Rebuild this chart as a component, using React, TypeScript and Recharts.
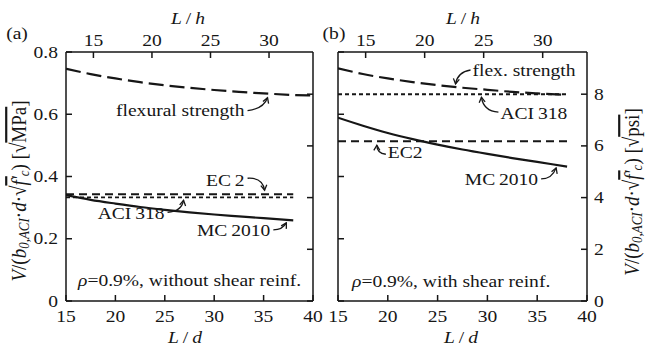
import React from 'react';
import { LineChart, Line, XAxis, YAxis, ReferenceDot } from 'recharts';

const FONT = '"Liberation Serif", "Times New Roman", Times, serif';
const INK = '#161616';
const FS = 17;
const SX = 1.15;

// Panel (a): shear capacity without shear reinforcement, in sqrt(MPa)
const ldA = [15, 17.5, 20, 22.5, 25, 27.5, 30, 32.5, 35, 38, 40];
const flexA = [0.746, 0.729, 0.715, 0.703, 0.693, 0.685, 0.678, 0.672, 0.667, 0.662, 0.66];
const ec2A = [0.343, 0.343, 0.343, 0.343, 0.343, 0.343, 0.343, 0.343, 0.343, 0.343, null];
const aciA = [0.333, 0.333, 0.333, 0.333, 0.333, 0.333, 0.333, 0.333, 0.333, 0.333, null];
const mcA = [0.34, 0.325, 0.313, 0.302, 0.293, 0.285, 0.278, 0.272, 0.266, 0.259, null];

// Panel (b): shear capacity with shear reinforcement, in sqrt(psi)
const ldB = [15, 17.5, 20, 22.5, 25, 27.5, 30, 32.5, 35, 38];
const flexB = [9.0, 8.78, 8.61, 8.47, 8.35, 8.25, 8.17, 8.09, 8.03, 7.97];
const aciB = [8, 8, 8, 8, 8, 8, 8, 8, 8, 8];
const ec2B = [6.18, 6.18, 6.18, 6.18, 6.18, 6.18, 6.18, 6.18, 6.18, 6.18];
const mcB = [7.09, 6.78, 6.5, 6.26, 6.05, 5.86, 5.69, 5.53, 5.38, 5.2];

// Axis ticks
const ldTicks = [15, 20, 25, 30, 35, 40];
const lhTicks = [15, 20, 25, 30];
const mpaTicks = [0, 0.2, 0.4, 0.6, 0.8];
const psiTicks = [0, 2, 4, 6, 8];

const LD_PER_LH = 1.185;
const PSI_PER_MPA = 12.04;
const MPA_MAX = 0.8;
const PSI_MAX = MPA_MAX * PSI_PER_MPA;
const LD_DOMAIN: [number, number] = [15, 40];

const dataA = ldA.map((ld, i) => ({ ld, flex: flexA[i], ec2: ec2A[i], aci: aciA[i], mc: mcA[i] }));
const dataB = ldB.map((ld, i) => ({ ld, flex: flexB[i], ec2: ec2B[i], aci: aciB[i], mc: mcB[i] }));
const lhTicksOnLd = lhTicks.map((v) => v * LD_PER_LH);

function interp(xs: number[], ys: (number | null)[], x: number): number {
  for (let i = 0; i < xs.length - 1; i++) {
    const y0 = ys[i];
    const y1 = ys[i + 1];
    if (x >= xs[i] && x <= xs[i + 1] && y0 != null && y1 != null) {
      const t = (x - xs[i]) / (xs[i + 1] - xs[i]);
      return y0 + t * (y1 - y0);
    }
  }
  return ys[0] as number;
}

type Anchor = 'start' | 'middle' | 'end';

function SText({ x, y, anchor = 'middle', size = FS, children }: { x: number; y: number; anchor?: Anchor; size?: number; children: React.ReactNode }) {
  return (
    <text
      transform={`translate(${x},${y}) scale(${SX},1)`}
      textAnchor={anchor}
      dominantBaseline="central"
      fontFamily={FONT}
      fontSize={size}
      fill={INK}
    >
      {children}
    </text>
  );
}

type Side = 'left' | 'right' | 'top' | 'bottom';
const TICK = 6;

function axisTick(side: Side, labelled: boolean, fmt: (v: number) => string = (v) => String(v)) {
  return (props: any) => {
    const { x, y, payload } = props;
    const label = fmt(payload.value);
    let seg: [number, number, number, number];
    let text: React.ReactNode = null;
    if (side === 'left') {
      seg = [x, y, x + TICK, y];
      if (labelled) text = <SText x={x - 8} y={y} anchor="end">{label}</SText>;
    } else if (side === 'right') {
      seg = [x, y, x - TICK, y];
      if (labelled) text = <SText x={x + 7} y={y} anchor="start">{label}</SText>;
    } else if (side === 'top') {
      seg = [x, y, x, y + TICK];
      if (labelled) text = <SText x={x} y={y - 12}>{label}</SText>;
    } else {
      seg = [x, y, x, y - TICK];
      if (labelled) text = <SText x={x} y={y + 15}>{label}</SText>;
    }
    return (
      <g>
        <line x1={seg[0]} y1={seg[1]} x2={seg[2]} y2={seg[3]} stroke={INK} strokeWidth={1.5} />
        {text}
      </g>
    );
  };
}

type Callout = {
  text: React.ReactNode;
  tx: number;
  ty: number;
  anchor: Anchor;
  from: [number, number];
  ctrl: [number, number];
  tip: [number, number];
};

function calloutShape(c: Callout) {
  return (p: any) => {
    const { cx, cy } = p;
    const sx = cx + c.from[0];
    const sy = cy + c.from[1];
    const qx = cx + c.ctrl[0];
    const qy = cy + c.ctrl[1];
    const ex = cx + c.tip[0];
    const ey = cy + c.tip[1];
    const dx = ex - qx;
    const dy = ey - qy;
    const len = Math.hypot(dx, dy) || 1;
    const ux = -dx / len;
    const uy = -dy / len;
    const a = Math.PI / 6;
    const h = 6;
    const w1x = ex + h * (ux * Math.cos(a) - uy * Math.sin(a));
    const w1y = ey + h * (ux * Math.sin(a) + uy * Math.cos(a));
    const w2x = ex + h * (ux * Math.cos(-a) - uy * Math.sin(-a));
    const w2y = ey + h * (ux * Math.sin(-a) + uy * Math.cos(-a));
    return (
      <g>
        <path d={`M${sx},${sy} Q${qx},${qy} ${ex},${ey}`} fill="none" stroke={INK} strokeWidth={1.3} />
        <path d={`M${w1x},${w1y} L${ex},${ey} L${w2x},${w2y}`} fill="none" stroke={INK} strokeWidth={1.3} />
        <SText x={cx + c.tx} y={cy + c.ty} anchor={c.anchor}>{c.text}</SText>
      </g>
    );
  };
}

function noteShape(text: React.ReactNode, ox: number, oy: number) {
  return (p: any) => (
    <SText x={p.cx + ox} y={p.cy + oy} anchor="start">{text}</SText>
  );
}

const axisLine = { stroke: INK, strokeWidth: 1.5 };

const lineStyles = {
  flex: { strokeDasharray: '15 6', strokeWidth: 2.2 },
  ec2: { strokeDasharray: '8 5', strokeWidth: 2.1 },
  aci: { strokeDasharray: '4 3', strokeWidth: 1.9 },
  mc: { strokeDasharray: undefined, strokeWidth: 2.2 },
};

const it = (s: string) => <tspan fontStyle="italic">{s}</tspan>;

const YL_FS = 19;
const YL_SUB = 13;

function YLabel({ x, y, unit }: { x: number; y: number; unit: string }) {
  return (
    <text
      transform={`translate(${x},${y}) scale(${SX},1) rotate(-90)`}
      textAnchor="middle"
      dominantBaseline="central"
      fontFamily={FONT}
      fontSize={YL_FS}
      fill={INK}
    >
      <tspan fontStyle="italic">V</tspan>
      <tspan>/(</tspan>
      <tspan fontStyle="italic">b</tspan>
      <tspan fontStyle="italic" fontSize={YL_SUB} dy={4}>0,ACI</tspan>
      <tspan dy={-4}>{'\u00B7'}</tspan>
      <tspan fontStyle="italic">d</tspan>
      <tspan>{'\u00B7\u221A'}</tspan>
      <tspan fontStyle="italic" textDecoration="overline">f'</tspan>
      <tspan fontStyle="italic" fontSize={YL_SUB} dy={4}>c</tspan>
      <tspan dy={-4}>{') [\u221A'}</tspan>
      <tspan textDecoration="overline">{unit}</tspan>
      <tspan>]</tspan>
    </text>
  );
}

function Overlay() {
  return (
    <svg width={645} height={349} style={{ position: 'absolute', left: 0, top: 0, pointerEvents: 'none' }}>
      <SText x={17} y={33}>(a)</SText>
      <SText x={334} y={33}>(b)</SText>
      <SText x={188} y={18}>{it('L')}{'\u2009/\u2009'}{it('h')}</SText>
      <SText x={463} y={18}>{it('L')}{'\u2009/\u2009'}{it('h')}</SText>
      <SText x={185} y={337}>{it('L')}{'\u2009/\u2009'}{it('d')}</SText>
      <SText x={461} y={337}>{it('L')}{'\u2009/\u2009'}{it('d')}</SText>
      <YLabel x={19} y={191} unit="MPa" />
      <YLabel x={632} y={192} unit="psi" />
    </svg>
  );
}

export default function App() {
  const rho = <>{it('\u03C1')}=0.9%, </>;

  const flexAnchorA = 35.5;
  const ec2AnchorA = 35.1;
  const aciAnchorA = 27.0;
  const mcAnchorA = 37.3;

  const flexAnchorB = 26.8;
  const aciAnchorB = 29.4;
  const ec2AnchorB = 19.0;
  const mcAnchorB = 36.9;

  return (
    <div style={{ position: 'absolute', left: 0, top: 0, width: 645, height: 349, background: '#fff', overflow: 'hidden' }}>
      <div style={{ position: 'absolute', left: 0, top: 0 }}>
        <LineChart width={330} height={349} data={dataA} margin={{ top: 0, right: 0, bottom: 0, left: 0 }}>
          <XAxis xAxisId="ld" dataKey="ld" type="number" domain={LD_DOMAIN} ticks={ldTicks} orientation="bottom" height={48}
            interval={0} tickSize={0} tickMargin={0} tickLine={false} axisLine={axisLine} tick={axisTick('bottom', true)} allowDataOverflow />
          <XAxis xAxisId="lh" dataKey="ld" type="number" domain={LD_DOMAIN} ticks={lhTicksOnLd} orientation="top" height={52}
            interval={0} tickSize={0} tickMargin={0} tickLine={false} axisLine={axisLine}
            tick={axisTick('top', true, (v) => String(Math.round(v / LD_PER_LH)))} allowDataOverflow />
          <YAxis yAxisId="mpa" type="number" domain={[0, MPA_MAX]} ticks={mpaTicks} orientation="left" width={66}
            interval={0} tickSize={0} tickMargin={0} tickLine={false} axisLine={axisLine} tick={axisTick('left', true)} allowDataOverflow />
          <YAxis yAxisId="psi" type="number" domain={[0, PSI_MAX]} ticks={psiTicks} orientation="right" width={17}
            interval={0} tickSize={0} tickMargin={0} tickLine={false} axisLine={axisLine} tick={axisTick('right', false)} allowDataOverflow />

          <Line xAxisId="ld" yAxisId="mpa" dataKey="flex" type="monotone" stroke={INK} dot={false} isAnimationActive={false} {...lineStyles.flex} />
          <Line xAxisId="ld" yAxisId="mpa" dataKey="ec2" type="linear" stroke={INK} dot={false} isAnimationActive={false} {...lineStyles.ec2} />
          <Line xAxisId="ld" yAxisId="mpa" dataKey="aci" type="linear" stroke={INK} dot={false} isAnimationActive={false} {...lineStyles.aci} />
          <Line xAxisId="ld" yAxisId="mpa" dataKey="mc" type="monotone" stroke={INK} dot={false} isAnimationActive={false} {...lineStyles.mc} />

          <ReferenceDot xAxisId="ld" yAxisId="mpa" x={flexAnchorA} y={interp(ldA, flexA, flexAnchorA)} r={0}
            shape={calloutShape({ text: 'flexural strength', tx: -24, ty: 17, anchor: 'end', from: [-21, 17], ctrl: [-5, 15], tip: [-1, 4] })} />
          <ReferenceDot xAxisId="ld" yAxisId="mpa" x={ec2AnchorA} y={interp(ldA, ec2A, ec2AnchorA)} r={0}
            shape={calloutShape({ text: 'EC\u20092', tx: -20, ty: -14, anchor: 'end', from: [-17, -16], ctrl: [-2, -17], tip: [0, -4] })} />
          <ReferenceDot xAxisId="ld" yAxisId="mpa" x={aciAnchorA} y={interp(ldA, aciA, aciAnchorA)} r={0}
            shape={calloutShape({ text: 'ACI\u2009318', tx: -20, ty: 16, anchor: 'end', from: [-17, 15], ctrl: [-3, 14], tip: [-1, 3] })} />
          <ReferenceDot xAxisId="ld" yAxisId="mpa" x={mcAnchorA} y={interp(ldA, mcA, mcAnchorA)} r={0}
            shape={calloutShape({ text: 'MC\u20092010', tx: -16, ty: 11, anchor: 'end', from: [-13, 10], ctrl: [-4, 10], tip: [0, 3] })} />
          <ReferenceDot xAxisId="ld" yAxisId="mpa" x={15} y={0} r={0}
            shape={noteShape(<>{rho}without shear reinf.</>, 12, -21)} />
        </LineChart>
      </div>

      <div style={{ position: 'absolute', left: 320, top: 0 }}>
        <LineChart width={325} height={349} data={dataB} margin={{ top: 0, right: 0, bottom: 0, left: 0 }}>
          <XAxis xAxisId="ld" dataKey="ld" type="number" domain={LD_DOMAIN} ticks={ldTicks} orientation="bottom" height={48}
            interval={0} tickSize={0} tickMargin={0} tickLine={false} axisLine={axisLine} tick={axisTick('bottom', true)} allowDataOverflow />
          <XAxis xAxisId="lh" dataKey="ld" type="number" domain={LD_DOMAIN} ticks={lhTicksOnLd} orientation="top" height={52}
            interval={0} tickSize={0} tickMargin={0} tickLine={false} axisLine={axisLine}
            tick={axisTick('top', true, (v) => String(Math.round(v / LD_PER_LH)))} allowDataOverflow />
          <YAxis yAxisId="mpa" type="number" domain={[0, MPA_MAX]} ticks={mpaTicks} orientation="left" width={18}
            interval={0} tickSize={0} tickMargin={0} tickLine={false} axisLine={axisLine} tick={axisTick('left', false)} allowDataOverflow />
          <YAxis yAxisId="psi" type="number" domain={[0, PSI_MAX]} ticks={psiTicks} orientation="right" width={58}
            interval={0} tickSize={0} tickMargin={0} tickLine={false} axisLine={axisLine} tick={axisTick('right', true)} allowDataOverflow />

          <Line xAxisId="ld" yAxisId="psi" dataKey="flex" type="monotone" stroke={INK} dot={false} isAnimationActive={false} {...lineStyles.flex} />
          <Line xAxisId="ld" yAxisId="psi" dataKey="aci" type="linear" stroke={INK} dot={false} isAnimationActive={false} {...lineStyles.aci} />
          <Line xAxisId="ld" yAxisId="psi" dataKey="ec2" type="linear" stroke={INK} dot={false} isAnimationActive={false} {...lineStyles.ec2} />
          <Line xAxisId="ld" yAxisId="psi" dataKey="mc" type="monotone" stroke={INK} dot={false} isAnimationActive={false} {...lineStyles.mc} />

          <ReferenceDot xAxisId="ld" yAxisId="psi" x={flexAnchorB} y={interp(ldB, flexB, flexAnchorB)} r={0}
            shape={calloutShape({ text: 'flex. strength', tx: 17, ty: -17, anchor: 'start', from: [15, -17], ctrl: [2, -15], tip: [0, -3] })} />
          <ReferenceDot xAxisId="ld" yAxisId="psi" x={aciAnchorB} y={interp(ldB, aciB, aciAnchorB)} r={0}
            shape={calloutShape({ text: 'ACI\u2009318', tx: 19, ty: 19, anchor: 'start', from: [17, 18], ctrl: [2, 17], tip: [0, 3] })} />
          <ReferenceDot xAxisId="ld" yAxisId="psi" x={ec2AnchorB} y={interp(ldB, ec2B, ec2AnchorB)} r={0}
            shape={calloutShape({ text: 'EC2', tx: 10, ty: 11, anchor: 'start', from: [8, 13], ctrl: [-1, 12], tip: [-1, 4] })} />
          <ReferenceDot xAxisId="ld" yAxisId="psi" x={mcAnchorB} y={interp(ldB, mcB, mcAnchorB)} r={0}
            shape={calloutShape({ text: 'MC\u20092010', tx: -18, ty: 15, anchor: 'end', from: [-15, 14], ctrl: [-4, 14], tip: [0, 3] })} />
          <ReferenceDot xAxisId="ld" yAxisId="psi" x={15} y={0} r={0}
            shape={noteShape(<>{rho}with shear reinf.</>, 14, -20)} />
        </LineChart>
      </div>

      <Overlay />
    </div>
  );
}
